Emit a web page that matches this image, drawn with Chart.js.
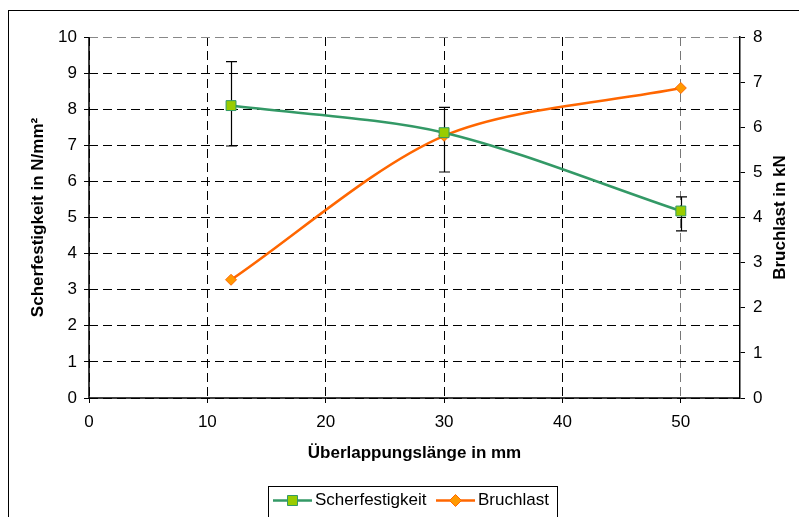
<!DOCTYPE html>
<html>
<head>
<meta charset="utf-8">
<script src="https://cdn.jsdelivr.net/npm/chart.js@4.4.1/dist/chart.umd.min.js"></script>
<style>
  html, body { margin: 0; padding: 0; background: #fff; }
</style>
</head>
<body>
<canvas id="chart" width="799" height="517"></canvas>
<script>
// Werte
const laengen = [12, 30, 50];               // Überlappungslänge in mm
const scherfestigkeit = [8.1, 7.35, 5.18];  // N/mm²
const scherMin = [6.98, 6.26, 4.63];        // untere Fehlergrenze
const scherMax = [9.32, 8.05, 5.57];        // obere Fehlergrenze
const bruchlast = [2.62, 5.81, 6.87];       // kN

const FONT = 'Liberation Sans, Arial, sans-serif';

// Fehlerbalken (hinter den Markern)
const fehlerbalken = {
  id: 'fehlerbalken',
  beforeDatasetsDraw(chart) {
    const { ctx, scales: { x, y } } = chart;
    ctx.save();
    ctx.strokeStyle = '#000';
    ctx.lineWidth = 1.2;
    laengen.forEach((l, i) => {
      const px = Math.round(x.getPixelForValue(l)) + 0.5;
      const top = y.getPixelForValue(scherMax[i]);
      const bot = y.getPixelForValue(scherMin[i]);
      ctx.beginPath();
      ctx.moveTo(px, top); ctx.lineTo(px, bot);
      ctx.moveTo(px - 5.5, top); ctx.lineTo(px + 5.5, top);
      ctx.moveTo(px - 5.5, bot); ctx.lineTo(px + 5.5, bot);
      ctx.stroke();
    });
    ctx.restore();
  }
};

// durchgezogene Achsenlinien links und unten
const achsen = {
  id: 'achsen',
  beforeDatasetsDraw(chart) {
    const { ctx, chartArea: a } = chart;
    ctx.save();
    ctx.setLineDash([]);
    ctx.strokeStyle = '#000';
    ctx.lineWidth = 1.5;
    ctx.beginPath();
    ctx.moveTo(a.left, a.top); ctx.lineTo(a.left, a.bottom); ctx.lineTo(a.right, a.bottom);
    ctx.stroke();
    ctx.restore();
  }
};

// Rahmen, rechter Achsentitel und Legende
const rahmen = {
  id: 'rahmen',
  afterDraw(chart) {
    const { ctx, scales: { y2 } } = chart;
    ctx.save();
    ctx.strokeStyle = '#000';
    ctx.lineWidth = 1;
    ctx.strokeRect(8.5, 10.5, 800, 520);

    // rechter Titel, von unten nach oben
    ctx.save();
    ctx.translate(780, (y2.top + y2.bottom) / 2);
    ctx.rotate(-Math.PI / 2);
    ctx.font = 'bold 17px ' + FONT;
    ctx.fillStyle = '#000';
    ctx.textAlign = 'center';
    ctx.textBaseline = 'middle';
    ctx.fillText('Bruchlast in kN', 0, 0);
    ctx.restore();

    // Legende
    ctx.strokeRect(268.5, 486.5, 289, 40);
    ctx.font = '17px ' + FONT;
    ctx.textBaseline = 'middle';
    ctx.textAlign = 'left';
    const ly = 500.5;
    chart.data.datasets.forEach((ds, i) => {
      const x0 = i === 0 ? 273 : 436;
      ctx.strokeStyle = ds.borderColor;
      ctx.lineWidth = 2.5;
      ctx.beginPath();
      ctx.moveTo(x0, ly); ctx.lineTo(x0 + 39, ly);
      ctx.stroke();
      const cx = x0 + 19.5;
      ctx.fillStyle = ds.pointBackgroundColor;
      ctx.strokeStyle = ds.pointBorderColor;
      ctx.lineWidth = 1;
      ctx.beginPath();
      if (ds.pointStyle === 'rect') {
        ctx.rect(cx - 5, ly - 5, 10, 10);
      } else {
        ctx.moveTo(cx, ly - 6); ctx.lineTo(cx + 6, ly);
        ctx.lineTo(cx, ly + 6); ctx.lineTo(cx - 6, ly);
        ctx.closePath();
      }
      ctx.fill(); ctx.stroke();
      ctx.fillStyle = '#000';
      ctx.fillText(ds.label, x0 + 42, ly);
    });
    ctx.restore();
  }
};

const gridDash = [9, 5];

new Chart(document.getElementById('chart'), {
  type: 'line',
  data: {
    datasets: [
      {
        label: 'Scherfestigkeit',
        data: laengen.map((l, i) => ({ x: l, y: scherfestigkeit[i] })),
        yAxisID: 'y',
        borderColor: '#339966',
        borderWidth: 2.5,
        pointStyle: 'rect',
        pointRadius: 7,
        pointBackgroundColor: '#99CC00',
        pointBorderColor: '#339966',
        pointBorderWidth: 1,
        tension: 0.3
      },
      {
        label: 'Bruchlast',
        data: laengen.map((l, i) => ({ x: l, y: bruchlast[i] })),
        yAxisID: 'y2',
        borderColor: '#FF6600',
        borderWidth: 2.5,
        pointStyle: 'rectRot',
        pointRadius: 5.5,
        pointBackgroundColor: '#FF9900',
        pointBorderColor: '#FF6600',
        pointBorderWidth: 1,
        tension: 0.3
      }
    ]
  },
  options: {
    responsive: false,
    animation: false,
    layout: { padding: { top: 37, left: 0, right: 0, bottom: 0 } },
    plugins: {
      legend: { display: false },
      tooltip: { enabled: false }
    },
    scales: {
      x: {
        type: 'linear',
        min: 0, max: 55,
        afterBuildTicks: s => { s.ticks = s.ticks.filter(t => t.value % 10 === 0); },
        afterFit: s => { s.height = 119; },
        ticks: { stepSize: 10, color: '#000', padding: 9, font: { family: FONT, size: 17 } },
        grid: {
          color: c => (c.tick && c.tick.value === 50) ? '#777' : '#000',
          lineWidth: 1,
          tickLength: 5,
          tickColor: '#000'
        },
        border: { display: false, dash: gridDash },
        title: {
          display: true,
          text: 'Überlappungslänge in mm',
          color: '#000',
          font: { family: FONT, size: 17, weight: 'bold' },
          padding: { top: 0, bottom: 53 }
        }
      },
      y: {
        position: 'left',
        min: 0, max: 10,
        afterFit: s => { s.width = 89; },
        ticks: { stepSize: 1, color: '#000', padding: 7, font: { family: FONT, size: 17 } },
        grid: {
          color: c => (c.tick && c.tick.value === 10) ? '#888' : '#000',
          lineWidth: 1,
          tickLength: 5,
          tickColor: '#000'
        },
        border: { display: false, dash: gridDash },
        title: {
          display: true,
          text: 'Scherfestigkeit in N/mm²',
          color: '#000',
          font: { family: FONT, size: 17, weight: 'bold' },
          padding: { top: 28, bottom: 0 }
        }
      },
      y2: {
        position: 'right',
        min: 0, max: 8,
        afterFit: s => { s.width = 59; },
        ticks: { stepSize: 1, color: '#000', padding: 8, font: { family: FONT, size: 17 } },
        grid: { drawOnChartArea: false, tickLength: 5, tickColor: '#000' },
        border: { display: true, color: '#000', width: 1.5 }
      }
    }
  },
  plugins: [achsen, fehlerbalken, rahmen]
});
</script>
</body>
</html>
